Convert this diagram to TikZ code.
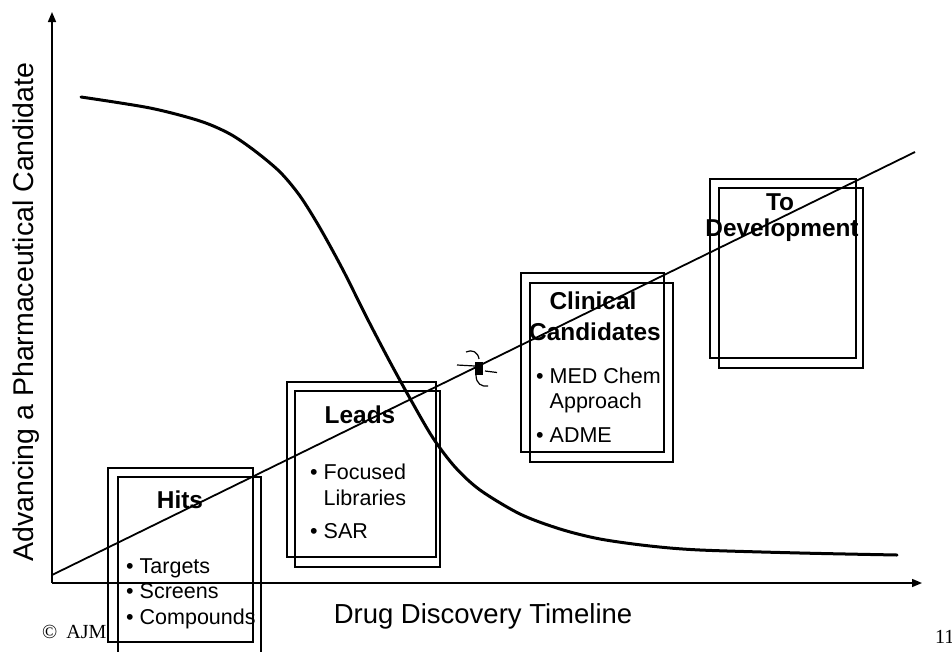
\documentclass[tikz,border=0pt]{standalone}
\usepackage{fontspec}
\setmainfont{Liberation Sans}
\newfontfamily\timesface{Liberation Serif}
\usetikzlibrary{arrows.meta}

\tikzset{
  frame/.style={draw, line width=1.2pt, inner sep=0pt, minimum width=#1},
  heading/.style={font=\fontsize{24.4}{28}\selectfont\bfseries, anchor=base, inner sep=0pt},
  bullet/.style={font=\fontsize{21.5}{25}\selectfont, anchor=base west, inner sep=0pt},
  axislabel/.style={inner sep=0pt, anchor=base},
  footnote/.style={font=\timesface\fontsize{20}{24}\selectfont, anchor=base west, inner sep=0pt},
  axis/.style={line width=1.5pt, -{Triangle[length=10pt,width=8pt]}},
  decline/.style={line width=3pt, line cap=round},
  progress/.style={line width=1.8pt}
}

\begin{document}
\begin{tikzpicture}[x=1pt,y=-1pt]
\useasboundingbox (0,0) rectangle (952,651);
\clip (0,0) rectangle (952,651);
\fill[white] (0,0) rectangle (952,651);

% axes
\coordinate (origin) at (52,583);
\coordinate (ytop) at (52,12);
\coordinate (xend) at (922,583);
\draw[axis] (origin) -- (ytop);
\draw[axis] (origin) -- (xend);

% axis titles
\node[axislabel, rotate=90, font=\fontsize{28.5}{32}\selectfont] (ylab) at (33,312)
  {Advancing a Pharmaceutical Candidate};
\node[axislabel, font=\fontsize{27.5}{32}\selectfont] (xlab) at (483,623)
  {Drug Discovery Timeline};

% footers
\node[footnote] (copy) at (42,638) {©\hspace{0.45em}AJM};
\node[footnote] (page) at (935,643) {11};

% stage frames (outer and offset inner)
\node[frame=145pt, minimum height=174pt] (hitsA) at (180.5,555) {};
\node[frame=143pt, minimum height=190pt] (hitsB) at (189.5,572) {};
\node[frame=149pt, minimum height=175pt] (leadsA) at (361.5,469.5) {};
\node[frame=145pt, minimum height=176pt] (leadsB) at (367.5,479) {};
\node[frame=143pt, minimum height=179pt] (clinA) at (592.5,362.5) {};
\node[frame=143pt, minimum height=179pt] (clinB) at (601.5,372.5) {};
\node[frame=146pt, minimum height=179pt] (devA) at (783,268.5) {};
\node[frame=144pt, minimum height=180pt] (devB) at (791,278) {};

% declining curve
\draw[decline] plot[smooth, tension=0.5] coordinates {
  (81,97) (150,108) (200,121) (230,134) (255,151) (280,172) (300,196)
  (320,228) (343,270) (367,318) (390,362) (412,402) (433,438) (455,467)
  (480,490) (520,514) (560,529) (600,539) (650,546) (700,550) (800,553)
  (897,555)};

% rising line
\coordinate (lineStart) at (52,575);
\coordinate (lineEnd) at (915,152);
\draw[progress] (lineStart) -- (lineEnd);

% small mark on the rising line
\fill (475,362) rectangle (483,375);
\draw[line width=1.2pt] (466,352) .. controls (472,349) and (478,352) .. (479,359);
\draw[line width=1.2pt] (457,365) -- (475,366);
\draw[line width=1.2pt] (485,371) -- (497,372.5);
\draw[line width=1.2pt] (476,375) .. controls (476,384) and (482,387) .. (488,386);

% Hits
\node[heading] (hitsT) at (180,508) {Hits};
\node[bullet] (hits1) at (126,573) {• Targets};
\node[bullet] (hits2) at (126,598.5) {• Screens};
\node[bullet] (hits3) at (126,624) {• Compounds};

% Leads
\node[heading] (leadsT) at (360,423) {Leads};
\node[bullet] (leads1) at (310,479) {• Focused};
\node[bullet] (leads2) at (310,505) {\phantom{• }Libraries};
\node[bullet] (leads3) at (310,538) {• SAR};

% Clinical Candidates
\node[heading] (clinT1) at (593,309) {Clinical};
\node[heading] (clinT2) at (595,340) {Candidates};
\node[bullet] (clin1) at (536,383) {• MED Chem};
\node[bullet] (clin2) at (536,408) {\phantom{• }Approach};
\node[bullet] (clin3) at (536,442) {• ADME};

% To Development
\node[heading] (devT1) at (780,210) {To};
\node[heading] (devT2) at (782,236) {Development};
\end{tikzpicture}
\end{document}
